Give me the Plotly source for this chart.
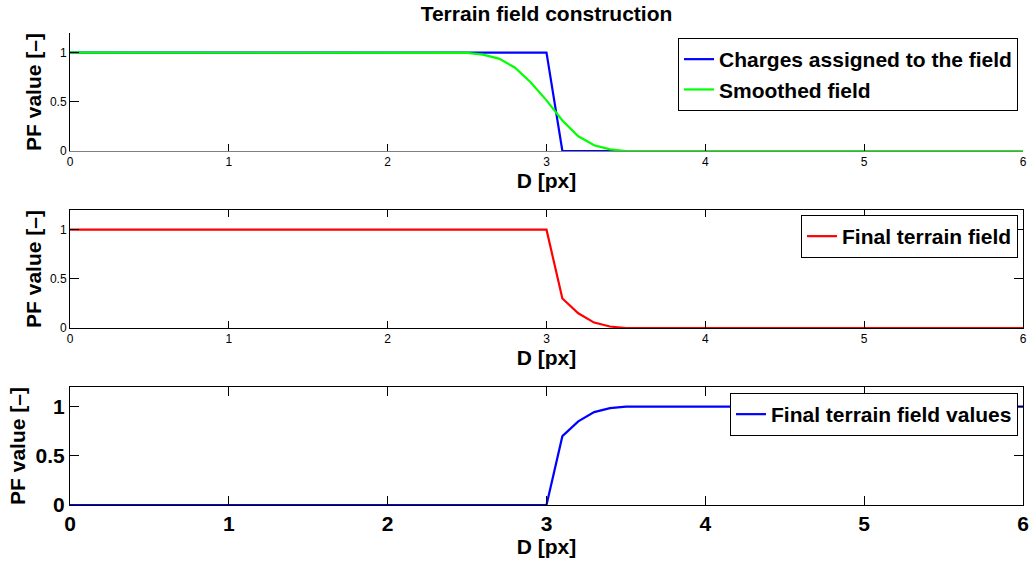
import plotly.graph_objects as go

# ---- data ----
charges_x = [0, 3.0, 3.1, 6]
charges_y = [1, 1, 0, 0]

smoothed_x = [0, 2.5, 2.6, 2.7, 2.8, 2.9, 3.0, 3.1, 3.2, 3.3, 3.4, 3.5, 6]
smoothed_y = [1, 0.998, 0.98, 0.94, 0.85, 0.70, 0.515, 0.31, 0.15, 0.058, 0.017, 0, 0]

final_x = [0, 3.0, 3.1, 3.2, 3.3, 3.4, 3.5, 6]
final_y = [1, 1, 0.30, 0.15, 0.055, 0.015, 0, 0]

values_x = [0, 3.0, 3.1, 3.2, 3.3, 3.4, 3.5, 6]
values_y = [0, 0, 0.70, 0.85, 0.945, 0.985, 1, 1]

x_ticks = [0, 1, 2, 3, 4, 5, 6]
y_ticks = [0, 0.5, 1]
y_tick_text = ["0", "0.5", "1"]

title_text = "Terrain field construction"
y_title = "PF value [–]"
x_title = "D [px]"

# ---- figure ----
W, H = 1033, 562
FONT = "Liberation Sans, Arial, sans-serif"

def py(px):
    return 1 - px / H

xdom = [70 / W, 1023 / W]
doms = [[py(151), py(33)], [py(328), py(210)], [py(505), py(387)]]

fig = go.Figure()
fig.add_trace(go.Scatter(x=charges_x, y=charges_y, mode="lines", name="Charges assigned to the field",
                         line=dict(color="#0000ff", width=2.2), xaxis="x", yaxis="y", legend="legend"))
fig.add_trace(go.Scatter(x=smoothed_x, y=smoothed_y, mode="lines", name="Smoothed field",
                         line=dict(color="#00ff00", width=2.2), xaxis="x", yaxis="y", legend="legend"))
fig.add_trace(go.Scatter(x=final_x, y=final_y, mode="lines", name="Final terrain field",
                         line=dict(color="#ff0000", width=2.2), xaxis="x2", yaxis="y2", legend="legend2"))
fig.add_trace(go.Scatter(x=values_x, y=values_y, mode="lines", name="Final terrain field values",
                         line=dict(color="#0000ff", width=2.2), xaxis="x3", yaxis="y3", legend="legend3"))

def xaxis(anchor, mirror, big, lc="black"):
    return dict(domain=xdom, anchor=anchor, range=[0, 6], tickvals=x_ticks, automargin=False,
                ticks="inside", ticklen=7 if not big else 9, tickcolor="black", tickwidth=1,
                showline=True, linecolor=lc, linewidth=1, mirror="ticks" if mirror else False,
                showgrid=False, zeroline=False,
                tickfont=dict(family=FONT, size=21 if big else 12, color="black",
                              weight="bold" if big else "normal"),
                title=dict(text=x_title, font=dict(family=FONT, size=21, color="black", weight="bold"),
                           standoff=4))

def yaxis(anchor, dom, mirror, big):
    return dict(domain=dom, anchor=anchor, range=[0, 1.2], tickvals=y_ticks, ticktext=y_tick_text,
                automargin=False,
                ticks="inside", ticklen=9, tickcolor="black", tickwidth=1,
                showline=True, linecolor="black", linewidth=1, mirror="ticks" if mirror else False,
                showgrid=False, zeroline=False,
                tickfont=dict(family=FONT, size=21 if big else 12, color="black",
                              weight="bold" if big else "normal"),
                title=dict(text=y_title, font=dict(family=FONT, size=21, color="black", weight="bold"),
                           standoff=4 if big else 2))

legend_common = dict(bgcolor="white", bordercolor="black", borderwidth=1, xanchor="right", yanchor="top",
                     font=dict(family=FONT, size=21, color="black", weight="bold"),
                     tracegroupgap=0, itemwidth=30)

fig.update_layout(
    width=W, height=H,
    margin=dict(l=0, r=0, t=0, b=0),
    paper_bgcolor="white", plot_bgcolor="white",
    showlegend=True,
    title=dict(text=title_text, x=546.5 / W, xanchor="center", y=py(14), yanchor="middle",
               font=dict(family=FONT, size=21, color="black", weight="bold")),
    xaxis=xaxis("y", False, False, lc="#808080"),
    yaxis=yaxis("x", doms[0], False, False),
    xaxis2=xaxis("y2", True, False),
    yaxis2=yaxis("x2", doms[1], True, False),
    xaxis3=xaxis("y3", True, True),
    yaxis3=yaxis("x3", doms[2], True, True),
    legend=dict(x=1018 / W, y=py(38), **legend_common),
    legend2=dict(x=1018 / W, y=py(215), **legend_common),
    legend3=dict(x=1018 / W, y=py(393), **legend_common),
)

fig.write_html("out.html")
